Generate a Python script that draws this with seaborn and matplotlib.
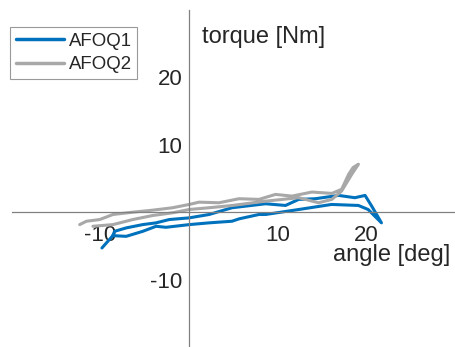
import numpy as np
import pandas as pd
import matplotlib
matplotlib.use('Agg')
import matplotlib.pyplot as plt
import seaborn as sns

# AFOQ1 loop (angle deg, torque Nm)
afoq1_angle = [-9.85, -8.62, -7.11, -5.25, -3.74, -2.62, 0.0, 2.25, 4.83, 5.62, 7.87,
               8.62, 12.36, 16.07, 19.1, 20.2, 21.7,
               20.6, 19.85, 18.7, 16.85, 14.24, 12.36, 10.87, 8.62, 4.83, 2.25, 0.0,
               -2.25, -3.74, -5.25, -7.11, -8.43, -8.62]
afoq1_torque = [-5.31, -3.48, -3.58, -2.84, -2.09, -2.24, -1.84, -1.58, -1.34, -0.99, -0.34,
                -0.34, 0.40, 1.15, 1.0, 0.4, -1.58,
                0.9, 2.49, 2.15, 2.49, 2.0, 1.9, 1.0, 1.25, 0.66, -0.34, -0.84,
                -1.09, -1.58, -1.84, -2.33, -2.84, -3.48]

# AFOQ2 loop
afoq2_angle = [-12.36, -11.6, -10.1, -8.6, -6.37, -4.12, -1.88, 0.0, 1.12, 3.37, 5.62,
               7.87, 9.74, 11.6, 13.85, 16.1, 17.2, 18.0, 18.5, 19.1,
               18.35, 17.2, 16.1, 14.6, 12.36, 8.62, 4.87, 2.25, 0.0, -1.88,
               -4.12, -6.37, -8.6, -10.87]
afoq2_torque = [-1.84, -1.34, -1.09, -0.34, 0.0, 0.3, 0.66, 1.15, 1.49, 1.40, 2.0,
                1.9, 2.64, 2.39, 2.99, 2.79, 3.39, 5.63, 6.63, 7.12,
                5.63, 3.13, 1.9, 1.40, 2.15, 1.64, 1.0, 0.66, 0.40, -0.09,
                -0.49, -1.09, -1.84, -2.09]

x_ticks = [-10, 10, 20]
y_ticks = [-10, 10, 20]

df = pd.concat([
    pd.DataFrame({'angle': afoq1_angle, 'torque': afoq1_torque, 'device': 'AFOQ1'}),
    pd.DataFrame({'angle': afoq2_angle, 'torque': afoq2_torque, 'device': 'AFOQ2'}),
], ignore_index=True)

sns.set_style('white')
plt.rcParams['font.family'] = ['Liberation Sans', 'DejaVu Sans']
plt.rcParams['axes.unicode_minus'] = False

fig = plt.figure(figsize=(4.55, 3.47), dpi=100)
ax = fig.add_axes([12/455, 0.0, 1 - 12/455, 1 - 10/347])

sns.lineplot(data=df, x='angle', y='torque', hue='device', sort=False, estimator=None,
             units='device', palette={'AFOQ1': '#0072BD', 'AFOQ2': '#A8A8A8'},
             linewidth=2.2, ax=ax, legend=True)

ax.set_xlim(-20, 30)
ax.set_ylim(-20, 30)
for side in ['left', 'bottom']:
    ax.spines[side].set_position(('data', 0))
    ax.spines[side].set_color('#808080')
    ax.spines[side].set_linewidth(0.9)
ax.spines['right'].set_visible(False)
ax.spines['top'].set_visible(False)
ax.set_facecolor('white')

ax.set_xticks(x_ticks)
ax.set_yticks(y_ticks)
ax.tick_params(direction='in', length=3.5, width=0.8, color='#808080',
               labelsize=16, labelcolor='#262626')
ax.tick_params(axis='x', pad=9)
ax.tick_params(axis='y', pad=5)
ax.set_xlabel('')
ax.set_ylabel('')

ax.text(1.5, 26, 'torque [Nm]', ha='left', va='center', fontsize=17, color='#262626')
ax.text(29.5, -6.3, 'angle [deg]', ha='right', va='center', fontsize=17, color='#262626')

leg = ax.legend(loc='upper left', bbox_to_anchor=(10/455, 1 - 27/347),
                bbox_transform=fig.transFigure, fontsize=13.4, frameon=True,
                fancybox=False, handlelength=2.6, handletextpad=0.25,
                borderpad=0.3, labelspacing=0.35, borderaxespad=0)
leg.get_frame().set_edgecolor('#808080')
leg.get_frame().set_linewidth(0.8)
for line in leg.get_lines():
    line.set_linewidth(2.5)
for t in leg.get_texts():
    t.set_color('#262626')

fig.savefig('out.png', dpi=100)
